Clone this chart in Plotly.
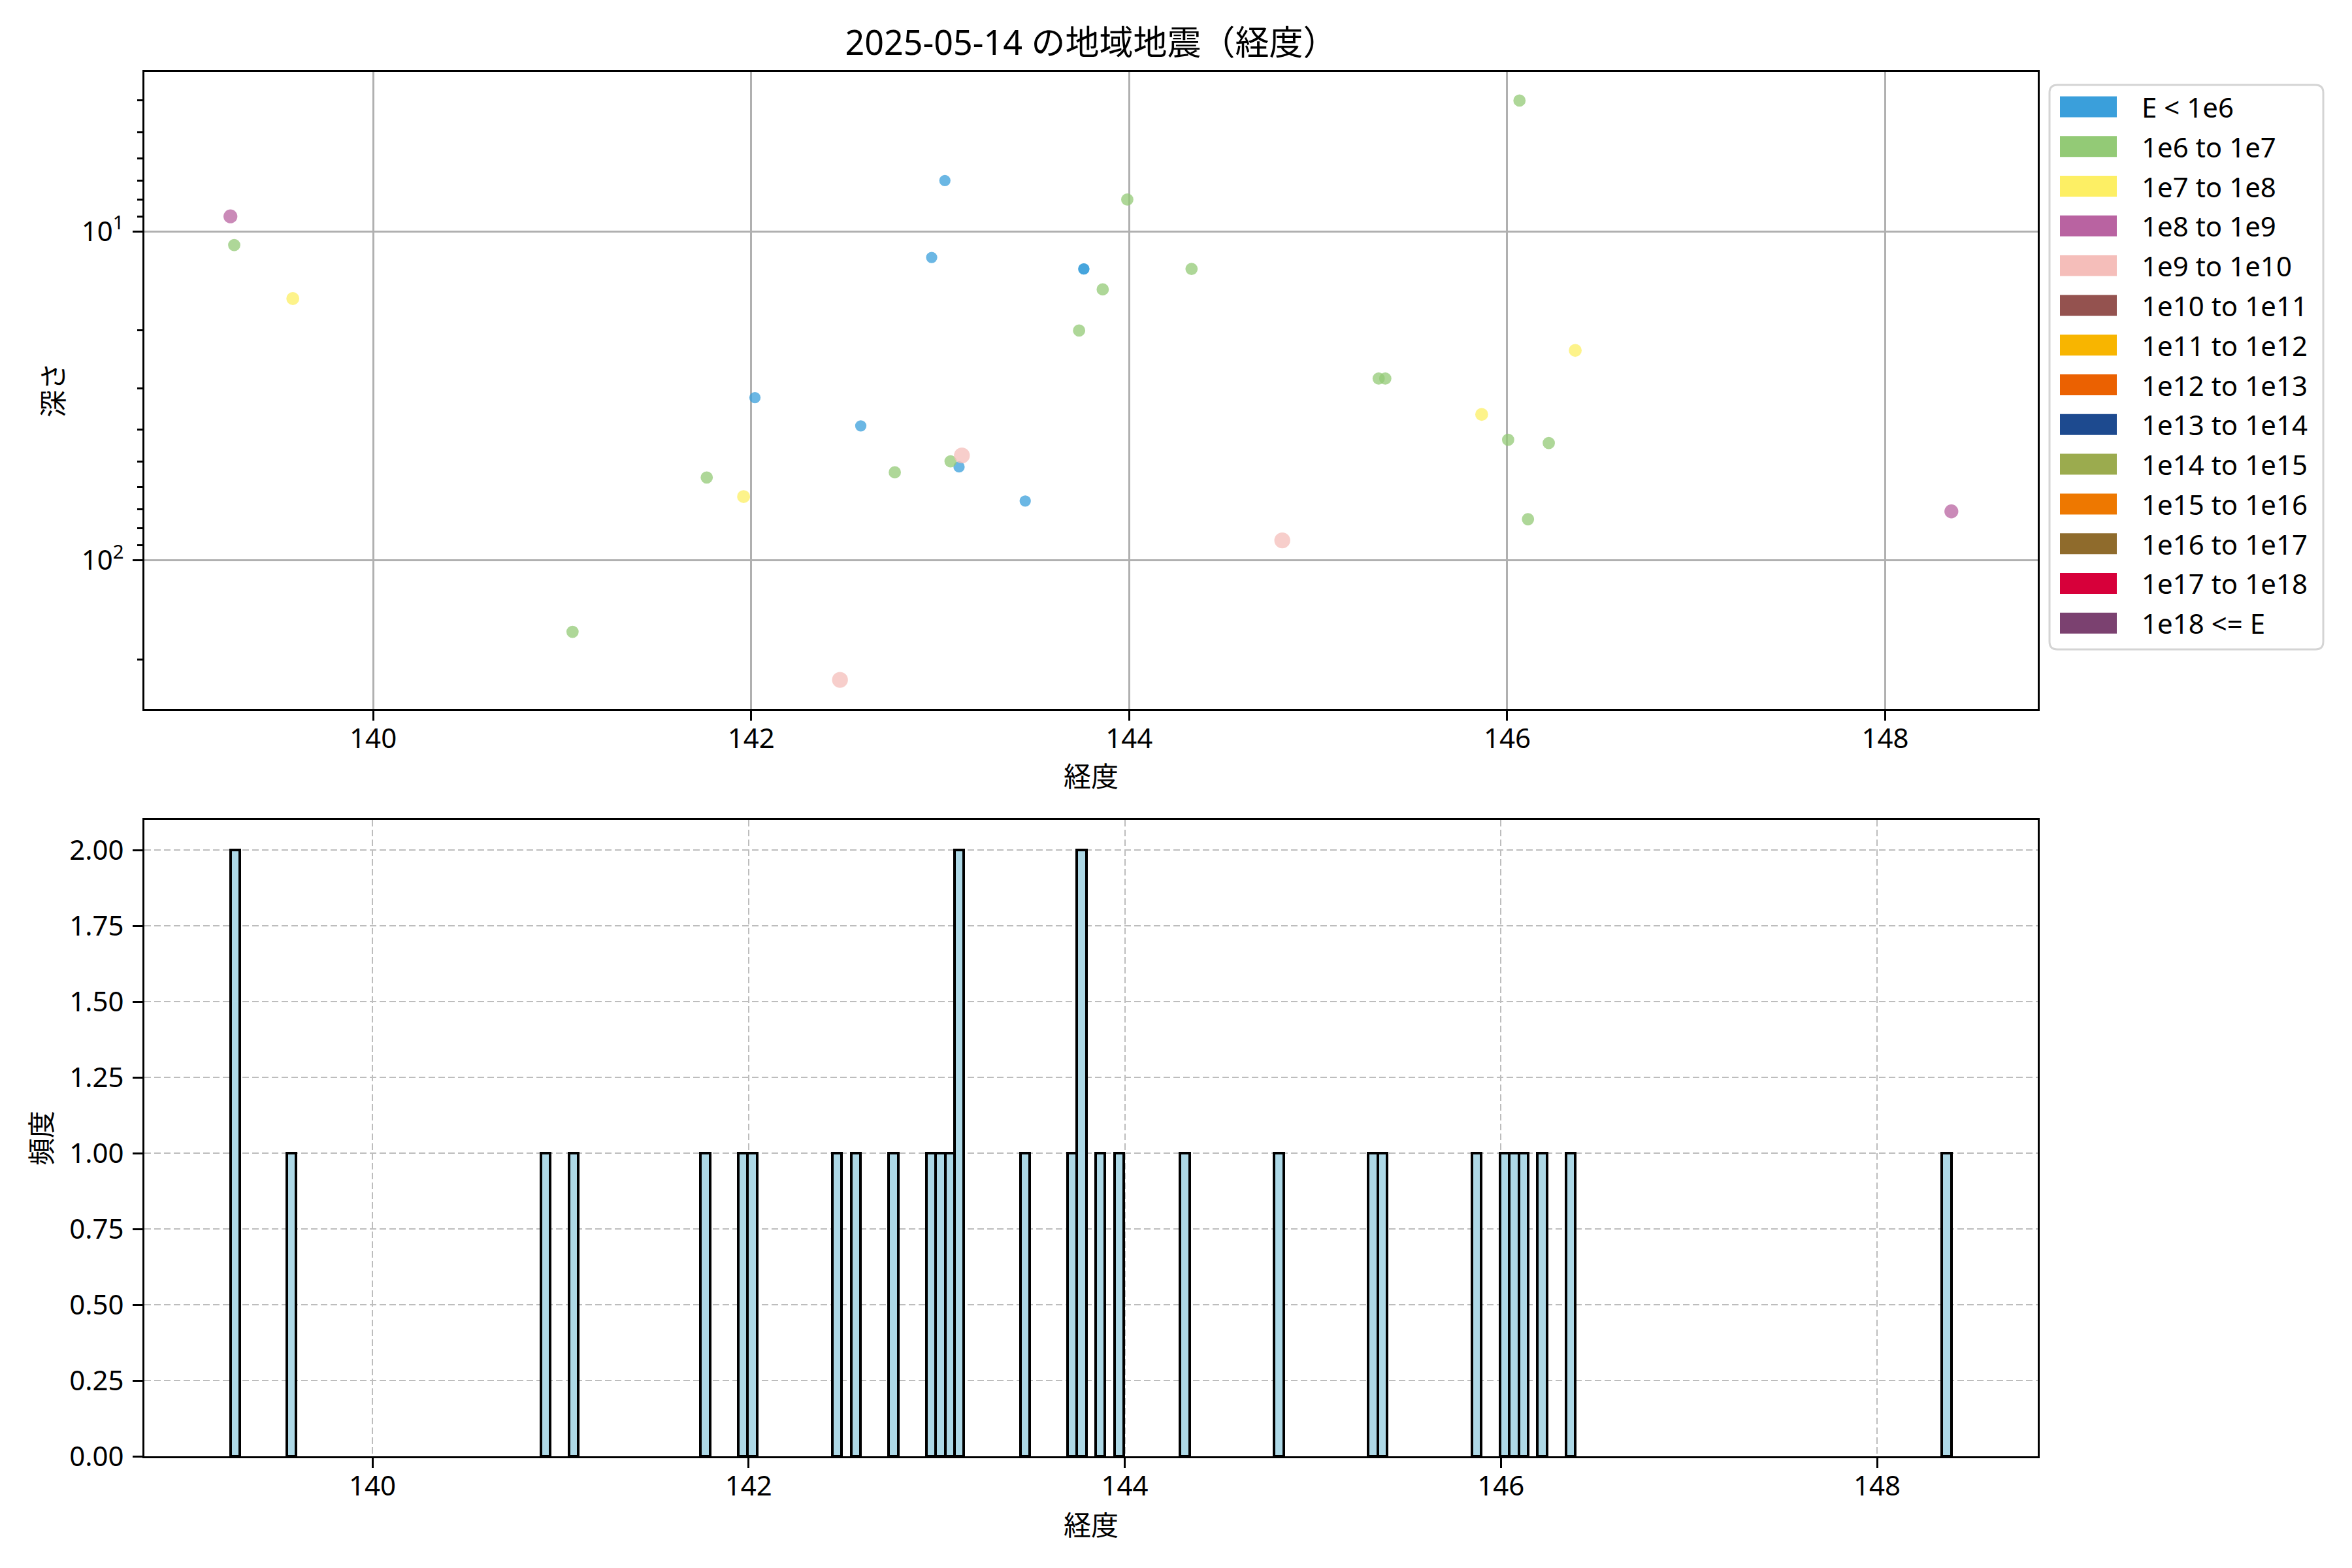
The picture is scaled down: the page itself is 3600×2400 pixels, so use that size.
import numpy as np
import plotly.graph_objects as go

# ---------------- data ----------------
categories = ["E < 1e6", "1e6 to 1e7", "1e7 to 1e8", "1e8 to 1e9", "1e9 to 1e10",
              "1e10 to 1e11", "1e11 to 1e12", "1e12 to 1e13", "1e13 to 1e14",
              "1e14 to 1e15", "1e15 to 1e16", "1e16 to 1e17", "1e17 to 1e18", "1e18 <= E"]
category_colors = ["#3a9fdb", "#93ca76", "#fdef64", "#b963a1", "#f5beba",
                   "#94524f", "#f8b500", "#eb6101", "#1d4a8f",
                   "#9bab4e", "#ee7800", "#8f6b2c", "#d7003a", "#7b4170"]

lon = [139.245, 139.265, 139.575, 140.92, 141.055, 141.765, 141.96, 142.02, 142.47,
       142.58, 142.76, 142.955, 143.025, 143.055, 143.10, 143.115, 143.45, 143.735,
       143.76, 143.76, 143.86, 143.99, 144.33, 144.81, 145.32, 145.355, 145.865,
       146.005, 146.065, 146.11, 146.22, 146.36, 148.35]
depth = [9, 11, 16, 0, 165, 56, 64, 32, 231,
         39, 54, 12, 7, 50, 52, 48, 66, 20,
         13, 13, 15, 8, 13, 87, 28, 28, 36,
         43, 4, 75, 44, 23, 71]
energy_class = ["1e8 to 1e9", "1e6 to 1e7", "1e7 to 1e8", "1e6 to 1e7", "1e6 to 1e7",
                "1e6 to 1e7", "1e7 to 1e8", "E < 1e6", "1e9 to 1e10",
                "E < 1e6", "1e6 to 1e7", "E < 1e6", "E < 1e6", "1e6 to 1e7",
                "E < 1e6", "1e9 to 1e10", "E < 1e6", "1e6 to 1e7",
                "E < 1e6", "E < 1e6", "1e6 to 1e7", "1e6 to 1e7", "1e6 to 1e7",
                "1e9 to 1e10", "1e6 to 1e7", "1e6 to 1e7", "1e7 to 1e8",
                "1e6 to 1e7", "1e6 to 1e7", "1e6 to 1e7", "1e6 to 1e7",
                "1e7 to 1e8", "1e8 to 1e9"]

x_ticks = [140, 142, 144, 146, 148]
depth_ticks = [10, 100]
depth_tick_labels = ["10<sup>1</sup>", "10<sup>2</sup>"]
depth_minor = [4, 5, 6, 7, 8, 9, 20, 30, 40, 50, 60, 70, 80, 90, 200]
count_ticks = [0, 0.25, 0.5, 0.75, 1.0, 1.25, 1.5, 1.75, 2.0]
bin_width = 0.05

title_text = "2025-05-14 の地域地震（経度）"
xlabel = "経度"
ylabel_top = "深さ"
ylabel_bottom = "頻度"

# ---------------- styling helpers ----------------
W, H = 3600, 2400
OFF = 8  # page body margin offset
FONT = "Noto Sans, Noto Sans CJK JP"


def px(x):
    return (x - OFF) / W


def py(y):
    return 1 - (y - OFF) / H


marker_size = {"E < 1e6": 15.5, "1e6 to 1e7": 17, "1e7 to 1e8": 18,
               "1e8 to 1e9": 19.5, "1e9 to 1e10": 22.5}

fig = go.Figure()

# scatter (top)
for cat, col in zip(categories, category_colors):
    idx = [i for i, c in enumerate(energy_class) if c == cat]
    if not idx:
        continue
    fig.add_trace(go.Scatter(
        x=[lon[i] for i in idx], y=[depth[i] for i in idx], mode="markers",
        marker=dict(color=col, size=marker_size.get(cat, 16), opacity=0.75,
                    line=dict(color=col, width=1.8)),
        xaxis="x", yaxis="y", showlegend=False, name=cat))

# histogram (bottom)
lon_arr = np.array(lon)
edges = np.arange(lon_arr.min(), lon_arr.max() + bin_width, bin_width)
counts, _ = np.histogram(lon_arr, bins=edges)
fig.add_trace(go.Histogram(
    x=lon, xbins=dict(start=edges[0], end=edges[-1], size=bin_width),
    marker=dict(color="#add8e6", line=dict(color="black", width=4)),
    xaxis="x2", yaxis="y2", showlegend=False))

# ranges (matplotlib-like 5% margins)
span_top = lon_arr.max() - lon_arr.min()
xr_top = [lon_arr.min() - 0.05 * span_top, lon_arr.max() + 0.05 * span_top]
pos_depth = np.array([d for d in depth if d > 0], dtype=float)
lmin, lmax = np.log10(pos_depth.min()), np.log10(pos_depth.max())
lpad = 0.05 * (lmax - lmin)
yr_top = [lmax + lpad, lmin - lpad]
span_bot = edges[-1] - edges[0]
xr_bot = [edges[0] - 0.05 * span_bot, edges[-1] + 0.05 * span_bot]
yr_bot = [0, counts.max() * 1.05]

x_dom = [px(221), px(3118.5)]
common_axis = dict(showline=True, linecolor="black", linewidth=3, mirror=True,
                   ticks="outside", ticklen=15, tickwidth=3, tickcolor="black",
                   zeroline=False, automargin=False,
                   tickfont=dict(family=FONT, size=42, color="black"))

fig.update_layout(
    width=W, height=H,
    margin=dict(l=0, r=0, t=0, b=0),
    paper_bgcolor="white", plot_bgcolor="white",
    bargap=0,
    font=dict(family=FONT, color="black"),
    title=dict(text=title_text, x=px(1670), y=py(66), xanchor="center", yanchor="middle",
               xref="paper", yref="paper", font=dict(family=FONT, size=52, color="black")),
    xaxis=dict(domain=x_dom, anchor="y", range=xr_top, tickvals=x_ticks,
               showgrid=True, gridcolor="#b0b0b0", gridwidth=3, ticklabelstandoff=-8,
               **common_axis),
    yaxis=dict(domain=[py(1085), py(109.6)], anchor="x", type="log", range=yr_top,
               tickvals=depth_ticks, ticktext=depth_tick_labels,
               showgrid=True, gridcolor="#b0b0b0", gridwidth=3, ticklabelstandoff=5,
               minor=dict(tickvals=depth_minor, ticks="outside", ticklen=8, tickwidth=2.5,
                          tickcolor="black", showgrid=False),
               **common_axis),
    xaxis2=dict(domain=x_dom, anchor="y2", range=xr_bot, tickvals=x_ticks,
                showgrid=True, gridcolor="#bdbdbd", gridwidth=2, griddash="10px,5px",
                ticklabelstandoff=-8, **common_axis),
    yaxis2=dict(domain=[py(2229), py(1255)], anchor="x2", range=yr_bot,
                tickvals=count_ticks, tickformat=".2f",
                showgrid=True, gridcolor="#bdbdbd", gridwidth=2, griddash="10px,5px",
                ticklabelstandoff=5, **common_axis),
)

annotations = [
    dict(text=xlabel, x=px(1670), y=py(1187), xref="paper", yref="paper",
         xanchor="center", yanchor="middle", showarrow=False,
         font=dict(family=FONT, size=42, color="black")),
    dict(text=xlabel, x=px(1670), y=py(2333), xref="paper", yref="paper",
         xanchor="center", yanchor="middle", showarrow=False,
         font=dict(family=FONT, size=42, color="black")),
    dict(text=ylabel_top, x=px(81), y=py(597), xref="paper", yref="paper",
         xanchor="center", yanchor="middle", showarrow=False, textangle=-90,
         font=dict(family=FONT, size=42, color="black")),
    dict(text=ylabel_bottom, x=px(62), y=py(1742), xref="paper", yref="paper",
         xanchor="center", yanchor="middle", showarrow=False, textangle=-90,
         font=dict(family=FONT, size=42, color="black")),
]

# manual legend (matplotlib-style patches)
shapes = []
lx0, lx1, ly0, ly1 = px(3137), px(3556), py(994), py(130)
rx, ry = 12 / W, 12 / H
path = (f"M {lx0 + rx},{ly1} L {lx1 - rx},{ly1} Q {lx1},{ly1} {lx1},{ly1 - ry} "
        f"L {lx1},{ly0 + ry} Q {lx1},{ly0} {lx1 - rx},{ly0} L {lx0 + rx},{ly0} "
        f"Q {lx0},{ly0} {lx0},{ly0 + ry} L {lx0},{ly1 - ry} Q {lx0},{ly1} {lx0 + rx},{ly1} Z")
shapes.append(dict(type="path", path=path, xref="paper", yref="paper",
                   line=dict(color="#d4d4d4", width=3), fillcolor="white"))
row0, row_step = 163.4, 60.8
for i, (cat, col) in enumerate(zip(categories, category_colors)):
    yc = row0 + i * row_step
    shapes.append(dict(type="rect", xref="paper", yref="paper",
                       x0=px(3153), x1=px(3240), y0=py(yc + 16), y1=py(yc - 16),
                       fillcolor=col, line=dict(width=0)))
    annotations.append(dict(text=cat.replace("<", "&lt;"), x=px(3276), y=py(yc),
                            xref="paper", yref="paper", xanchor="left", yanchor="middle",
                            showarrow=False, font=dict(family=FONT, size=42, color="black")))

fig.update_layout(annotations=annotations, shapes=shapes)

fig.write_html("out.html")
